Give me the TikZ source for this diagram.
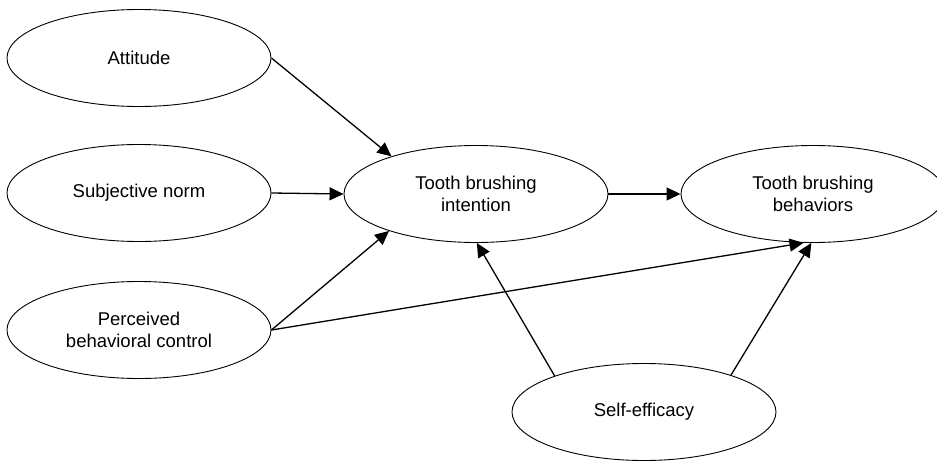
\documentclass[tikz,border=0pt]{standalone}
\usepackage{fontspec}
\setmainfont{Liberation Sans}
\usetikzlibrary{shapes.geometric,arrows.meta}
\begin{document}
\begin{tikzpicture}[x=1pt,y=-1pt,
  construct/.style={ellipse,draw,line width=0.9pt,minimum width=264pt,minimum height=97pt,inner sep=0pt,align=center,font=\fontsize{18.5}{21.5}\selectfont},
  arr/.style={line width=1.3pt,-{Triangle[length=14pt,width=13pt]}}]
\clip (0,0) rectangle (937,461);
\node[construct] (att) at (139,58) {Attitude};
\node[construct] (sn) at (139,193) {Subjective norm};
\node[construct] (pbc) at (139,330) {Perceived\\behavioral control};
\node[construct] (int) at (476,194) {Tooth brushing\\intention};
\node[construct] (beh) at (813,194) {Tooth brushing\\behaviors};
\node[construct] (se) at (644,412) {Self-efficacy};
\draw[arr] (att.east) -- (int.156);
\draw[arr] (sn.east) -- (int.west);
\draw[arr] (pbc.east) -- (int.203);
\draw[arr] (pbc.east) -- (beh.259);
\draw[arr] (int.east) -- (beh.west);
\draw[arr] (se.158) -- (int.271);
\draw[arr] (se.23) -- (beh.268);
\end{tikzpicture}
\end{document}
